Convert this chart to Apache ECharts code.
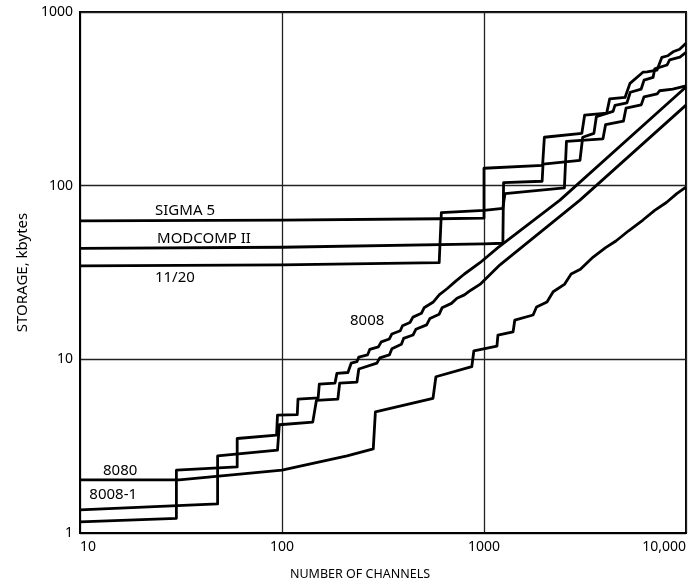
<!DOCTYPE html>
<html><head><meta charset="utf-8">
<script src="https://cdn.jsdelivr.net/npm/echarts@6/dist/echarts.min.js"></script>
<style>html,body{margin:0;padding:0;background:#fff}#c{width:691px;height:587px}</style>
</head><body><div id="c"></div>
<script>
const xTickLabels = {10:'10',100:'100',1000:'1000',10000:'10,000'};
const yTickLabels = {1:'1',10:'10',100:'100',1000:'1000'};

const sigma5 = [[10,62.7],[100,63.3],[600,64.5],[1000,65],[1000,126],[1950,131],[1990,190],[3050,200],[3150,255],[4050,262],[4190,316],[4990,322],[5280,388],[6120,450],[6410,452],[7180,462],[7600,548],[8140,560],[8630,590],[9300,610],[10000,660]];
const modcomp = [[10,43.6],[100,44.2],[1000,46.2],[1240,46.6],[1250,104],[1940,106],[1960,133],[2986,140],[3080,190],[3500,200],[3600,250],[4355,268],[4450,290],[5100,300],[5300,345],[6000,360],[6200,405],[6870,420],[7000,470],[8050,495],[8300,530],[9330,550],[10000,585]];
const e1120 = [[10,34.5],[100,35],[600,36],[615,70],[1000,72],[1240,74],[1270,90],[2500,97],[2560,180],[3880,186],[4000,225],[4900,235],[5050,280],[6000,292],[6200,325],[7200,338],[7400,352],[8600,360],[10000,375]];
const e8008 = [[10,1.16],[30,1.215],[30,2.3],[60,2.4],[60,3.5],[94,3.66],[95,4.77],[119,4.8],[120,5.9],[151,6.0],[153,7.2],[183,7.3],[187,8.3],[212,8.4],[220,9.5],[235,9.7],[240,10.3],[265,10.6],[272,11.4],[300,11.8],[310,12.6],[340,13.1],[350,14],[385,14.6],[395,15.6],[430,16.3],[445,17.5],[490,18.4],[505,19.8],[559,21.3],[600,23.5],[656,25.5],[720,28],[800,31],[955,36],[1172,44],[2377,82.6],[10000,370]];
const e8008_1 = [[10,1.36],[48,1.47],[48,2.78],[95,3.0],[97,4.2],[142,4.35],[148,5.8],[189,5.9],[193,7.3],[235,7.4],[240,8.8],[295,9.5],[305,10.2],[340,10.6],[350,11.5],[390,12.2],[400,13.2],[445,13.8],[460,14.9],[520,15.8],[540,17.2],[600,18.2],[620,19.8],[690,21],[735,22.5],[800,23.5],[860,25],[955,27],[1200,35],[2986,82.6],[10000,291]];
const e8080 = [[10,2.02],[31,2.02],[100,2.3],[142,2.52],[210,2.78],[283,3.05],[290,4.99],[559,5.96],[578,7.94],[870,9.07],[891,11.2],[1159,11.9],[1172,13.8],[1393,14.4],[1420,16.8],[1750,18],[1820,20],[2050,21.4],[2200,24.5],[2500,27],[2700,31],[3000,33],[3470,38.8],[4000,44],[4500,48],[5200,55],[6120,63.4],[7000,72],[8000,80],[9000,90],[10000,98]];

const seriesDefs = [
  ['SIGMA 5', sigma5],['MODCOMP II', modcomp],['11/20', e1120],
  ['8008', e8008],['8008-1', e8008_1],['8080', e8080]
];
const labels = [
  ['SIGMA 5',[33.1,71.4]],['MODCOMP II',[41.1,49.3]],['11/20',[29.5,29.4]],
  ['8008',[264,16.6]],['8080',[15.8,2.27]],['8008-1',[14.6,1.65]]
];

const chart = echarts.init(document.getElementById('c'));
const font = '"Noto Sans", sans-serif';
chart.setOption({
  animation:false,
  backgroundColor:'#fff',
  grid:{left:80,right:5,top:12,bottom:54,show:true,borderColor:'#000',borderWidth:2,containLabel:false},
  xAxis:{type:'log',logBase:10,min:10,max:10000,
    axisLine:{show:true,lineStyle:{color:'#000',width:2}},axisTick:{show:false},
    splitLine:{show:true,lineStyle:{color:'#222',width:1.3}},
    axisLabel:{color:'#000',fontSize:14,fontFamily:font,margin:7,alignMinLabel:'left',alignMaxLabel:'right',
      formatter:v=>xTickLabels[Math.round(v)]||''},
    name:'NUMBER OF CHANNELS',nameLocation:'middle',nameGap:35,
    nameTextStyle:{color:'#000',fontSize:12.5,fontFamily:font,padding:[0,46,0,0]}},
  yAxis:{type:'log',logBase:10,min:1,max:1000,
    axisLine:{show:true,lineStyle:{color:'#000',width:2}},axisTick:{show:false},
    splitLine:{show:true,lineStyle:{color:'#222',width:1.3}},
    axisLabel:{color:'#000',fontSize:14,fontFamily:font,margin:7,
      formatter:v=>yTickLabels[Math.round(v)]||''},
    name:'STORAGE, kbytes',nameLocation:'middle',nameGap:37,nameRotate:90,
    nameTextStyle:{color:'#000',fontSize:15,fontFamily:font}},
  series: seriesDefs.map(([n,d])=>({name:n,type:'line',data:d,showSymbol:false,symbol:'none',
    lineStyle:{color:'#000',width:2.8,join:'round'},z:3})),
});
chart.setOption({graphic: labels.map(([t,c])=>{
  const p = chart.convertToPixel({gridIndex:0}, c);
  return {type:'text',x:p[0],y:p[1],style:{text:t,fill:'#000',font:'15px '+font,textAlign:'center',textVerticalAlign:'middle'}};
})});
</script></body></html>
